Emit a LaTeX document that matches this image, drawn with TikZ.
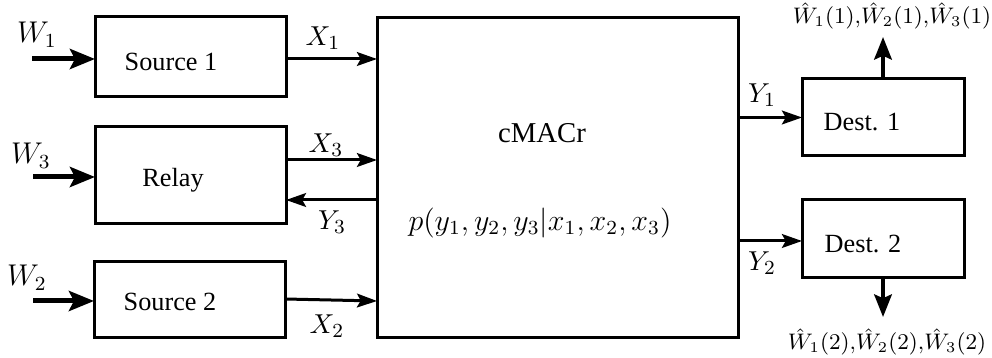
\documentclass[tikz,border=0pt]{standalone}
\usepackage{fontspec}
\setmainfont{Liberation Serif}
\usetikzlibrary{arrows.meta,calc}
\begin{document}
\begin{tikzpicture}[x=0.4pt,y=-0.4pt,
 box/.style={draw,line width=1.2pt,inner sep=0pt,outer sep=0pt},
 txt/.style={inner sep=0pt,font=\fontsize{10.5}{12}\selectfont},
 lab/.style={inner sep=0pt,font=\fontsize{11}{13}\selectfont},
 wlab/.style={inner sep=0pt,font=\fontsize{11.5}{13}\selectfont},
 hatlab/.style={inner sep=0pt,font=\fontsize{9}{11}\selectfont},
 inarr/.style={line width=2pt,-{Stealth[length=10pt,width=8pt,inset=2pt]}},
 sarr/.style={line width=1.2pt,-{Stealth[length=8pt,width=5.5pt,inset=1.5pt]}},
 oarr/.style={line width=1.6pt,-{Stealth[length=9pt,width=7pt,inset=1.5pt]}},
]
\useasboundingbox (0,0) rectangle (992,358);
% boxes
\node[box,minimum width=76.4pt,minimum height=32pt] (s1) at (190.5,57) {};
\node[box,minimum width=76.4pt,minimum height=38.8pt] (rl) at (190.5,175.5) {};
\node[box,minimum width=76.4pt,minimum height=30.4pt] (s2) at (189.5,300) {};
\node[box,minimum width=144.4pt,minimum height=127.6pt] (big) at (557.5,177.5) {};
\node[box,minimum width=64.8pt,minimum height=30.8pt] (d1) at (883,117.5) {};
\node[box,minimum width=64.8pt,minimum height=31.2pt] (d2) at (883,239) {};
% box texts
\node[txt] (s1t) at (171,62) {Source 1};
\node[txt] (rlt) at (173,180) {Relay};
\node[txt] (s2t) at (170,302) {Source 2};
\node[txt] (d1t) at (862,122) {Dest. 1};
\node[txt] (d2t) at (863,244) {Dest. 2};
\node[inner sep=0pt,font=\fontsize{11.5}{13}\selectfont] (cm) at (542,133) {cMACr};
\node[inner sep=0pt,font=\fontsize{12}{14}\selectfont] (pf) at (540,223) {$p(y_1,y_2,y_3|x_1,x_2,x_3)$};
% input arrows
\coordinate (w1s) at (32,59);
\coordinate (w3s) at (33,177);
\coordinate (w2s) at (33,301);
\draw[inarr] (w1s) -- (w1s -| s1.west);
\draw[inarr] (w3s) -- (w3s -| rl.west);
\draw[inarr] (w2s) -- (w2s -| s2.west);
\node[wlab] (w1) at (37,35) {$W_1$};
\node[wlab] (w3) at (31,156) {$W_3$};
\node[wlab] (w2) at (27,278) {$W_2$};
% channel inputs/outputs
\draw[sarr] ([yshift=-0.8pt]s1.east) -- ([yshift=-0.8pt]s1.east -| big.west);
\draw[sarr] ([yshift=6.2pt]rl.east) -- ([yshift=6.2pt]rl.east -| big.west);
\draw[sarr] ([yshift=-9.8pt]rl.east -| big.west) -- ([yshift=-9.8pt]rl.east);
\draw[sarr] ([yshift=0.4pt]s2.east) -- ([yshift=-0.4pt]s2.east -| big.west);
\node[lab] (x1) at (323,38) {$X_1$};
\node[lab] (x3) at (326,145) {$X_3$};
\node[lab] (y3) at (332,222) {$Y_3$};
\node[lab] (x2) at (327,326) {$X_2$};
\draw[sarr] (big.east |- d1.west) -- (d1.west);
\draw[sarr] ([yshift=-0.8pt]big.east |- d2.west) -- ([yshift=-0.8pt]d2.west);
\node[lab] (y1) at (762,95) {$Y_1$};
\node[lab] (y2) at (762,263) {$Y_2$};
% outputs
\coordinate (u1) at (883,37);
\coordinate (u2) at (883,317);
\draw[oarr] (d1.north) -- (u1);
\draw[oarr] (d2.south) -- (u2);
\node[hatlab] (h1) at (892,16) {$\hat{W}_1(1){,}\hat{W}_2(1){,}\hat{W}_3(1)$};
\node[hatlab] (h2) at (887,342) {$\hat{W}_1(2){,}\hat{W}_2(2){,}\hat{W}_3(2)$};
\end{tikzpicture}
\end{document}
